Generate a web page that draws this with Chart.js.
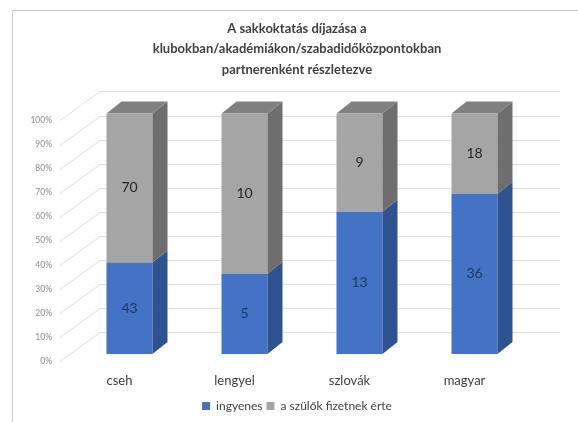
<!DOCTYPE html>
<html>
<head>
<meta charset="utf-8">
<script src="https://cdn.jsdelivr.net/npm/chart.js@4/dist/chart.umd.min.js"></script>
<style>
  html, body { margin: 0; padding: 0; background: #fff; }
  #wrap { position: relative; width: 578px; height: 422px; }
  #frame { position: absolute; left: 12px; top: 10px; right: -2px; bottom: -2px;
           border-left: 1px solid #c9c9c9; border-top: 1px solid #c9c9c9; pointer-events: none; }
  canvas { display: block; }
</style>
</head>
<body>
<div id="wrap">
  <canvas id="chart" width="578" height="422"></canvas>
  <div id="frame"></div>
</div>
<script>
// ── Data ────────────────────────────────────────────────
const titleLines = ['A sakkoktatás díjazása a', 'klubokban/akadémiákon/szabadidőközpontokban', 'partnerenként részletezve'];
const categories = ['cseh', 'lengyel', 'szlovák', 'magyar'];
const freeCounts = [43, 5, 13, 36];      // ingyenes
const paidCounts = [70, 10, 9, 18];      // a szülők fizetnek érte
const seriesNames = ['ingyenes', 'a szülők fizetnek érte'];
const yTicks = [0, 10, 20, 30, 40, 50, 60, 70, 80, 90, 100];

// 100% stacked: share of each row
const totals = categories.map((_, i) => freeCounts[i] + paidCounts[i]);
const freePct = freeCounts.map((v, i) => v / totals[i] * 100);
const paidPct = paidCounts.map((v, i) => v / totals[i] * 100);

// ── 3D look ─────────────────────────────────────────────
const DEPTH_X = 15, DEPTH_Y = 12;       // bar depth
const WALL_X = 100, WALL_R = 560, WALL_DY = -22, LABEL_DY = 7, LABEL_X = 60;
const FONT = 'Lato, "Open Sans", "Liberation Sans", sans-serif';

const faces = {
  front: ['#4472c4', '#a5a5a5'],
  side:  ['#2f5290', '#6e6e6e'],
  top:   ['#3b64ae', '#808080'],
  text:  ['#1f3864', '#262626'],
};

const wallPlugin = {
  id: 'wall',
  beforeDatasetsDraw(chart) {
    const { ctx, scales: { y } } = chart;
    ctx.save();
    ctx.strokeStyle = '#dedede';
    ctx.lineWidth = 1;
    yTicks.forEach(v => {
      const py = Math.round(y.getPixelForValue(v)) + 0.5;
      ctx.beginPath();
      ctx.moveTo(LABEL_X, py + LABEL_DY);
      ctx.lineTo(WALL_X, py + WALL_DY);
      ctx.lineTo(WALL_R, py + WALL_DY);
      ctx.stroke();
    });
    ctx.restore();
  },
};

const boxPlugin = {
  id: 'box3d',
  afterDatasetsDraw(chart) {
    const { ctx } = chart;
    const last = chart.data.datasets.length - 1;
    ctx.save();
    chart.data.datasets.forEach((ds, di) => {
      chart.getDatasetMeta(di).data.forEach(bar => {
        const { x, y, base, width } = bar.getProps(['x', 'y', 'base', 'width'], true);
        const l = x - width / 2, r = x + width / 2;
        ctx.fillStyle = faces.side[di];
        ctx.beginPath();
        ctx.moveTo(r, y); ctx.lineTo(r + DEPTH_X, y - DEPTH_Y);
        ctx.lineTo(r + DEPTH_X, base - DEPTH_Y); ctx.lineTo(r, base);
        ctx.closePath(); ctx.fill();
        if (di === last) {
          ctx.fillStyle = faces.top[di];
          ctx.beginPath();
          ctx.moveTo(l, y); ctx.lineTo(l + DEPTH_X, y - DEPTH_Y);
          ctx.lineTo(r + DEPTH_X, y - DEPTH_Y); ctx.lineTo(r, y);
          ctx.closePath(); ctx.fill();
        }
      });
    });
    // values in the middle of each front face
    ctx.font = '14px ' + FONT;
    ctx.textAlign = 'center';
    ctx.textBaseline = 'middle';
    const raw = [freeCounts, paidCounts];
    chart.data.datasets.forEach((ds, di) => {
      chart.getDatasetMeta(di).data.forEach((bar, i) => {
        const { x, y, base } = bar.getProps(['x', 'y', 'base'], true);
        ctx.fillStyle = faces.text[di];
        ctx.fillText(String(raw[di][i]), x, (y + base) / 2);
      });
    });
    ctx.restore();
  },
};

new Chart(document.getElementById('chart'), {
  type: 'bar',
  data: {
    labels: categories,
    datasets: [
      { label: seriesNames[0], data: freePct, backgroundColor: faces.front[0] },
      { label: seriesNames[1], data: paidPct, backgroundColor: faces.front[1] },
    ],
  },
  options: {
    responsive: false,
    animation: false,
    layout: { padding: { left: 16, right: 0, top: 0, bottom: 0 } },
    plugins: {
      title: {
        display: true, text: titleLines, color: '#404040',
        font: { family: FONT, size: 13, weight: 'bold', lineHeight: 1.55 },
        padding: { top: 19, bottom: 34 },
      },
      legend: {
        position: 'bottom',
        labels: {
          color: '#404040', boxWidth: 8, boxHeight: 8, padding: 4,
          font: { family: FONT, size: 12 },
        },
      },
      tooltip: { enabled: false },
    },
    datasets: { bar: { barPercentage: 0.8, categoryPercentage: 0.5 } },
    scales: {
      x: {
        stacked: true,
        grid: { display: false, drawTicks: false },
        border: { display: false },
        ticks: {
          color: '#404040', padding: 19, labelOffset: -10,
          font: { family: FONT, size: 13 },
        },
        afterFit: s => { s.height = 42; },
      },
      y: {
        stacked: true, min: 0, max: 100,
        grid: { display: false, drawTicks: false },
        border: { display: false },
        ticks: {
          stepSize: 10, color: '#8c8c8c', padding: 20, labelOffset: LABEL_DY,
          font: { family: FONT, size: 8.5 },
          callback: v => v + '%',
        },
        afterFit: s => { s.width = 56; },
      },
      pad: {
        position: 'right', display: true,
        grid: { display: false, drawTicks: false },
        border: { display: false },
        ticks: { display: false },
        afterFit: s => { s.width = 46; },
      },
    },
  },
  plugins: [wallPlugin, boxPlugin],
});
</script>
</body>
</html>
